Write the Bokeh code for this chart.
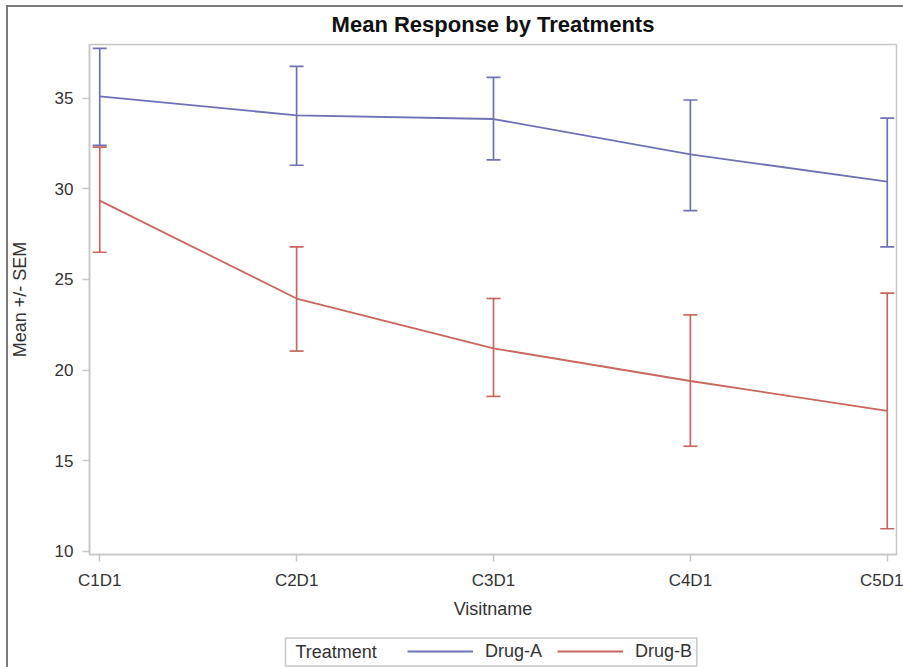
from bokeh.plotting import figure
from bokeh.layouts import column
from bokeh.models import (ColumnDataSource, Range1d, Whisker, TeeHead, Div,
                          Legend, LegendItem, Label, FixedTicker)
from bokeh.embed import file_html
from bokeh.resources import INLINE

# ---- data ----
visits = ["C1D1", "C2D1", "C3D1", "C4D1", "C5D1"]
drug_a_mean = [35.1, 34.05, 33.85, 31.9, 30.4]
drug_a_lower = [32.4, 31.3, 31.6, 28.8, 26.8]
drug_a_upper = [37.75, 36.75, 36.15, 34.9, 33.9]
drug_b_mean = [29.35, 23.95, 21.2, 19.4, 17.75]
drug_b_lower = [26.5, 21.05, 18.55, 15.8, 11.25]
drug_b_upper = [32.3, 26.8, 23.95, 23.05, 24.25]
y_ticks = [10, 15, 20, 25, 30, 35]
series_names = ["Drug-A", "Drug-B"]
legend_title = "Treatment"

FONT = "Liberation Sans"
BLUE = "#6e72b4"
RED = "#c7675e"
GRAY = "#c6c6c6"
TXT = "#333333"

x_pos = [i + 1 for i in range(len(visits))]
src = ColumnDataSource(dict(
    x=x_pos, a_mean=drug_a_mean, a_lo=drug_a_lower, a_hi=drug_a_upper,
    b_mean=drug_b_mean, b_lo=drug_b_lower, b_hi=drug_b_upper))

# ---- main plot ----
p = figure(width=903, height=622,
           x_range=Range1d(0.948, 5.047), y_range=Range1d(9.83, 37.96),
           output_backend="svg", toolbar_location=None,
           min_border_left=89, min_border_right=7,
           min_border_top=44, min_border_bottom=68)

p.background_fill_color = "white"
p.border_fill_color = "white"
p.outline_line_color = GRAY
p.outline_line_width = 1.5
p.xgrid.visible = False
p.ygrid.visible = False

p.title.text = "Mean Response by Treatments"
p.title.align = "center"
p.title.text_font = FONT
p.title.text_font_size = "22px"
p.title.text_font_style = "bold"
p.title.text_color = "#111111"
p.title.standoff = 15

for ax in (p.xaxis[0], p.yaxis[0]):
    ax.axis_line_color = GRAY
    ax.axis_line_width = 1.5
    ax.major_tick_line_color = GRAY
    ax.major_tick_line_width = 1.5
    ax.major_tick_in = 0
    ax.major_tick_out = 7
    ax.minor_tick_line_color = None
    ax.major_label_text_font = FONT
    ax.major_label_text_font_size = "17px"
    ax.major_label_text_color = TXT
    ax.axis_label_text_font = FONT
    ax.axis_label_text_font_size = "18px"
    ax.axis_label_text_font_style = "normal"
    ax.axis_label_text_color = TXT

p.xaxis.ticker = FixedTicker(ticks=x_pos)
p.xaxis.major_label_overrides = {x: v for x, v in zip(x_pos, visits)}
p.xaxis.axis_label = "Visitname"
p.xaxis.major_label_standoff = 9
p.xaxis.axis_label_standoff = 6

p.yaxis.ticker = FixedTicker(ticks=y_ticks)
p.yaxis.axis_label = "Mean +/- SEM"
p.yaxis.major_label_standoff = 9
p.yaxis.axis_label_standoff = 22

for lo, hi, col in (("a_lo", "a_hi", BLUE), ("b_lo", "b_hi", RED)):
    w = Whisker(source=src, base="x", lower=lo, upper=hi, dimension="height",
                line_color=col, line_width=1.7,
                upper_head=TeeHead(size=14, line_color=col, line_width=1.7),
                lower_head=TeeHead(size=14, line_color=col, line_width=1.7))
    p.add_layout(w)

p.line("x", "a_mean", source=src, line_color=BLUE, line_width=1.8)
p.line("x", "b_mean", source=src, line_color=RED, line_width=1.8)

# ---- legend strip ----
q = figure(width=903, height=45, x_range=Range1d(0, 1), y_range=Range1d(0, 1),
           output_backend="svg", toolbar_location=None,
           x_axis_location=None, y_axis_location=None,
           min_border=0, outline_line_color=None)
q.xgrid.visible = False
q.ygrid.visible = False
# off-screen dummy renderers, only used for the legend glyphs
qa = q.line(x=[-2, -1], y=[-2, -2], line_color=BLUE, line_width=1.8)
qb = q.line(x=[-2, -1], y=[-2, -2], line_color=RED, line_width=1.8)

box = Label(x=196, y=15.5, x_units="screen", y_units="screen",
            text=legend_title, text_font=FONT, text_font_size="18px",
            text_color=TXT, text_align="left", text_baseline="middle",
            border_line_color=GRAY, border_line_width=1.5,
            background_fill_color="white",
            padding=dict(left=10, right=320, top=4, bottom=4))
q.add_layout(box)

legend = Legend(items=[LegendItem(label=series_names[0], renderers=[qa]),
                       LegendItem(label=series_names[1], renderers=[qb])],
                orientation="horizontal", location=(318, 5.5),
                padding=0, margin=0, spacing=15, label_standoff=12,
                glyph_width=66, glyph_height=20, label_height=20,
                label_text_font=FONT, label_text_font_size="18px",
                label_text_color=TXT,
                border_line_alpha=0, background_fill_alpha=0)
q.add_layout(legend)

# thin dark frame seen at the top and left edge of the reference image
frame_div = Div(width=1, height=0, text=(
    '<div style="position:fixed;left:6px;top:5px;width:2px;height:662px;background:#7a7a7a"></div>'
    '<div style="position:fixed;left:6px;top:5px;width:897px;height:2px;background:#7a7a7a"></div>'))

layout = column(p, q, frame_div, spacing=0)

open("out.html", "w").write(file_html(layout, INLINE))
